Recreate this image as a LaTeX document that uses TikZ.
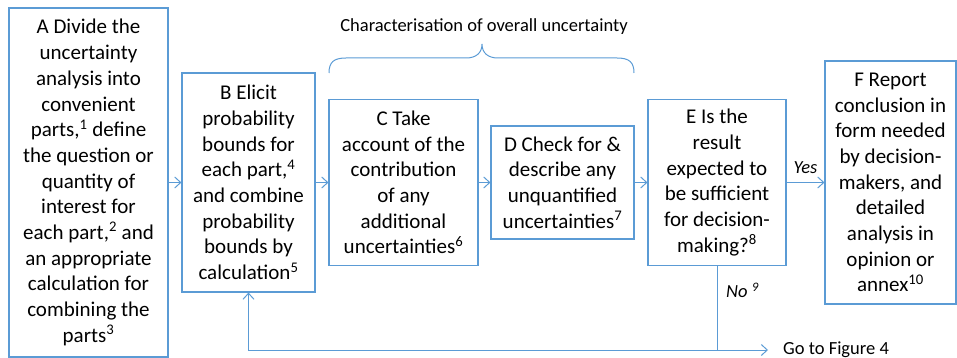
\documentclass[tikz,border=0pt]{standalone}
\usepackage{fontspec}
\setmainfont{Carlito}
\usetikzlibrary{arrows.meta}
\definecolor{boxblue}{RGB}{91,155,213}
\tikzset{
  stepbox/.style={draw=boxblue, line width=1.1pt, align=center, inner sep=0pt,
    font=\fontsize{21}{25.7}\selectfont},
  arr/.style={draw=boxblue, line width=1pt, -{Straight Barb[length=6pt,width=11pt]}},
  lbl/.style={inner sep=0pt, font=\fontsize{18.5}{22}\selectfont},
  ilbl/.style={inner sep=0pt, font=\fontsize{18.5}{22}\selectfont\itshape},
}
\begin{document}
\begin{tikzpicture}[x=1pt,y=1pt]
\useasboundingbox (0,0) rectangle (957,-358);
\node[stepbox, minimum width=159pt, minimum height=349pt] (A) at (88.5,-182.5)
 {A Divide the\\ uncertainty\\ analysis into\\ convenient\\ parts,\textsuperscript{1} define\\ the question or\\ quantity of\\ interest for\\ each part,\textsuperscript{2} and\\ an appropriate\\ calculation for\\ combining the\\ parts\textsuperscript{3}};
\node[stepbox, minimum width=133pt, minimum height=219pt] (B) at (248.5,-182.5)
 {B Elicit\\ probability\\ bounds for\\ each part,\textsuperscript{4}\\ and combine\\ probability\\ bounds by\\ calculation\textsuperscript{5}};
\node[stepbox, minimum width=149pt, minimum height=166pt] (C) at (403.5,-182.5)
 {C Take\\ account of the\\ contribution\\ of any\\ additional\\ uncertainties\textsuperscript{6}};
\node[stepbox, minimum width=143pt, minimum height=113pt] (D) at (562.5,-182.5)
 {D Check for \&\\ describe any\\ unquantified\\ uncertainties\textsuperscript{7}};
\node[stepbox, minimum width=138pt, minimum height=166pt] (E) at (717,-182.5)
 {E Is the\\ result\\ expected to\\ be sufficient\\ for decision-\\ making?\textsuperscript{8}};
\node[stepbox, minimum width=131pt, minimum height=243pt] (F) at (890.5,-182.5)
 {F Report\\ conclusion in\\ form needed\\ by decision-\\ makers, and\\ detailed\\ analysis in\\ opinion or\\ annex\textsuperscript{10}};
\node[lbl] (char) at (484,-27) {Characterisation of overall uncertainty};
\coordinate (brL) at (329,-73);
\coordinate (brR) at (634,-73);
\coordinate (brT) at (482,-44);
\draw[draw=boxblue, line width=1pt]
  (brL) .. controls (329,-62) and (334,-58) .. (346,-58) -- (466,-58)
  .. controls (476,-58) and (482,-53) .. (brT)
  .. controls (482,-53) and (488,-58) .. (498,-58) -- (617,-58)
  .. controls (629,-58) and (634,-62) .. (brR);
\draw[arr] (A) -- (B);
\draw[arr] (B) -- (C);
\draw[arr] (C) -- (D);
\draw[arr] (D) -- (E);
\draw[arr] (E) -- node[ilbl, above=8pt] (yes) {Yes} (F);
\coordinate (fb) at (717,-350);
\draw[arr] (E.south) -- (fb) -| (B.south);
\node[lbl, anchor=west, inner xsep=0pt] (go) at (783,-350) {Go to Figure 4};
\coordinate (goend) at (768,-350);
\draw[arr] (fb) -- (goend);
\node[ilbl, anchor=west] (no) at (726,-290) {No \textsuperscript{9}};
\end{tikzpicture}
\end{document}
